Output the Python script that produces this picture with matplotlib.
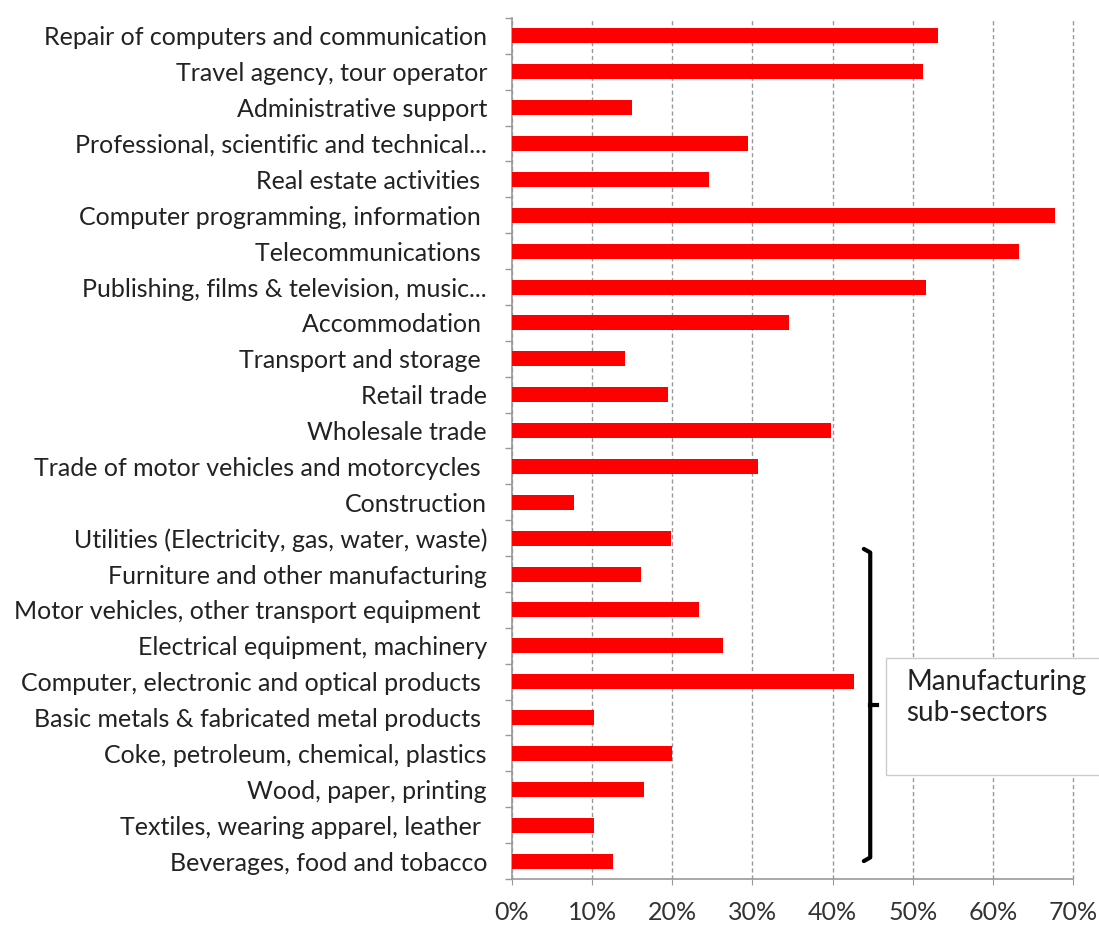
import matplotlib.pyplot as plt
import matplotlib.ticker as ticker
from matplotlib.patches import Rectangle

# Share of firms per sector
sectors = [
    "Repair of computers and communication",
    "Travel agency, tour operator",
    "Administrative support",
    "Professional, scientific and technical...",
    "Real estate activities ",
    "Computer programming, information ",
    "Telecommunications ",
    "Publishing, films & television, music...",
    "Accommodation ",
    "Transport and storage ",
    "Retail trade",
    "Wholesale trade",
    "Trade of motor vehicles and motorcycles ",
    "Construction",
    "Utilities (Electricity, gas, water, waste)",
    "Furniture and other manufacturing",
    "Motor vehicles, other transport equipment ",
    "Electrical equipment, machinery",
    "Computer, electronic and optical products ",
    "Basic metals & fabricated metal products ",
    "Coke, petroleum, chemical, plastics",
    "Wood, paper, printing",
    "Textiles, wearing apparel, leather ",
    "Beverages, food and tobacco",
]
shares = [0.531, 0.513, 0.150, 0.295, 0.246, 0.678, 0.633, 0.516, 0.346, 0.141,
          0.195, 0.398, 0.307, 0.077, 0.199, 0.161, 0.233, 0.263, 0.427, 0.102,
          0.200, 0.165, 0.102, 0.126]
x_ticks = [0, 0.1, 0.2, 0.3, 0.4, 0.5, 0.6, 0.7]
note = "Manufacturing\nsub-sectors"

plt.rcParams['font.family'] = ['Lato', 'DejaVu Sans']

fig = plt.figure(figsize=(10.99, 9.25), dpi=100)
ax = fig.add_axes([512 / 1099, 1 - 879 / 925, 561 / 1099, 861 / 925])

pos = list(range(len(sectors)))
ax.barh(pos, shares, height=0.42, color='#ff0000', zorder=3)

ax.set_xlim(0, 0.7)
ax.set_ylim(len(sectors) - 0.5, -0.5)
ax.set_xticks(x_ticks)
ax.xaxis.set_major_formatter(ticker.PercentFormatter(1.0, decimals=0))
ax.set_yticks(pos)
ax.set_yticklabels(sectors)
ax.yaxis.set_minor_locator(ticker.FixedLocator([p - 0.5 for p in pos] + [len(sectors) - 0.5]))

ax.tick_params(axis='y', which='major', length=0, pad=18, labelsize=18, labelcolor='#222222')
ax.tick_params(axis='y', which='minor', length=5, color='#999999', width=1)
ax.tick_params(axis='x', length=4, color='#999999', pad=12, labelsize=18, labelcolor='#333333')

ax.grid(axis='x', linestyle=(0, (3, 2)), color='#999999', linewidth=1, zorder=0)
for gl in ax.get_xgridlines():
    gl.set_clip_on(False)
for side in ['top', 'right']:
    ax.spines[side].set_visible(False)
for side in ['left', 'bottom']:
    ax.spines[side].set_color('#999999')
    ax.spines[side].set_linewidth(1.2)

# bracket around the manufacturing sub-sectors
bx, top, bot, mid = 0.447, 14.3, 23.0, 18.65
ax.plot([bx - 0.008, bx, bx, bx - 0.008], [top, top + 0.1, bot - 0.1, bot],
        color='black', lw=3, solid_capstyle='round', zorder=4)
ax.plot([bx, bx + 0.008], [mid, mid], color='black', lw=3, zorder=4)

ax.add_patch(Rectangle((0.467, 17.35), 0.3, 3.25, facecolor='white',
                       edgecolor='#cccccc', lw=1, zorder=5, clip_on=False))
ax.text(0.492, 17.65, note, fontsize=20, color='#222222', va='top',
        ha='left', linespacing=1.25, zorder=6)

fig.savefig('out.png', dpi=100)
